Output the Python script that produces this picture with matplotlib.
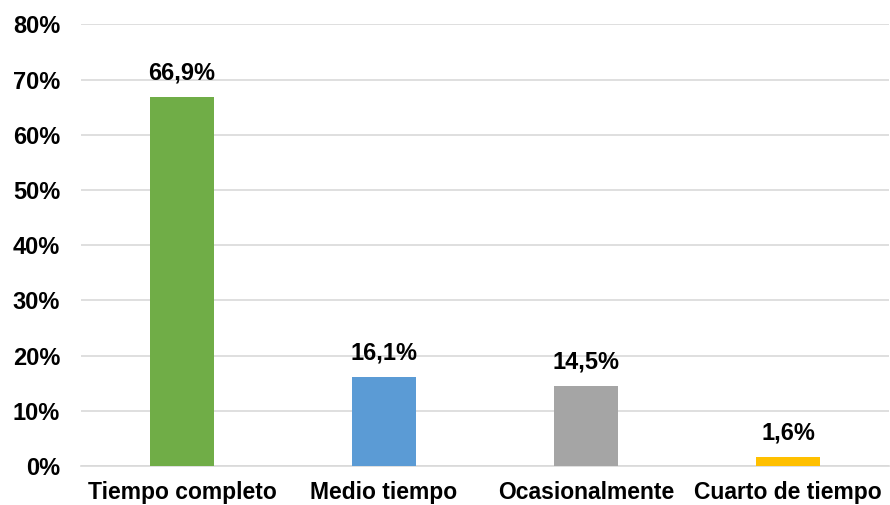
import matplotlib
matplotlib.use("Agg")
import matplotlib.pyplot as plt
from matplotlib.ticker import FuncFormatter

categorias = ["Tiempo completo", "Medio tiempo", "Ocasionalmente", "Cuarto de tiempo"]
porcentajes = [66.9, 16.1, 14.5, 1.6]
colores = ["#70AD47", "#5B9BD5", "#A5A5A5", "#FFC000"]
ticks_y = [0, 10, 20, 30, 40, 50, 60, 70, 80]

plt.rcParams["font.family"] = ["Liberation Sans", "DejaVu Sans"]

fig = plt.figure(figsize=(8.9, 5.05), dpi=100)
ax = fig.add_axes([0.091, 0.0772, 0.908, 0.8743])

x = range(len(categorias))
ax.bar(x, porcentajes, width=0.317, color=colores, zorder=3)

for xi, v in zip(x, porcentajes):
    ax.annotate(f"{v:.1f}%".replace(".", ","), (xi, v), xytext=(0, 9),
                textcoords="offset points", ha="center", va="bottom",
                fontsize=17, fontweight="bold", color="#000000")

ax.set_xlim(-0.5, len(categorias) - 0.5)
ax.set_ylim(0, 80)
ax.set_yticks(ticks_y)
ax.yaxis.set_major_formatter(FuncFormatter(lambda v, _: f"{v:.0f}%"))
ax.set_xticks(list(x))
ax.set_xticklabels(categorias)

ax.grid(axis="y", color="#D9D9D9", linewidth=1.2, zorder=0)
for s in ["top", "right", "left"]:
    ax.spines[s].set_visible(False)
ax.spines["bottom"].set_color("#D9D9D9")
ax.spines["bottom"].set_linewidth(1.2)

ax.tick_params(axis="y", length=0, pad=15, labelsize=17)
ax.tick_params(axis="x", length=0, pad=11, labelsize=16.5)
for lbl in ax.get_xticklabels() + ax.get_yticklabels():
    lbl.set_fontweight("bold")

fig.savefig("out.png", dpi=100)
